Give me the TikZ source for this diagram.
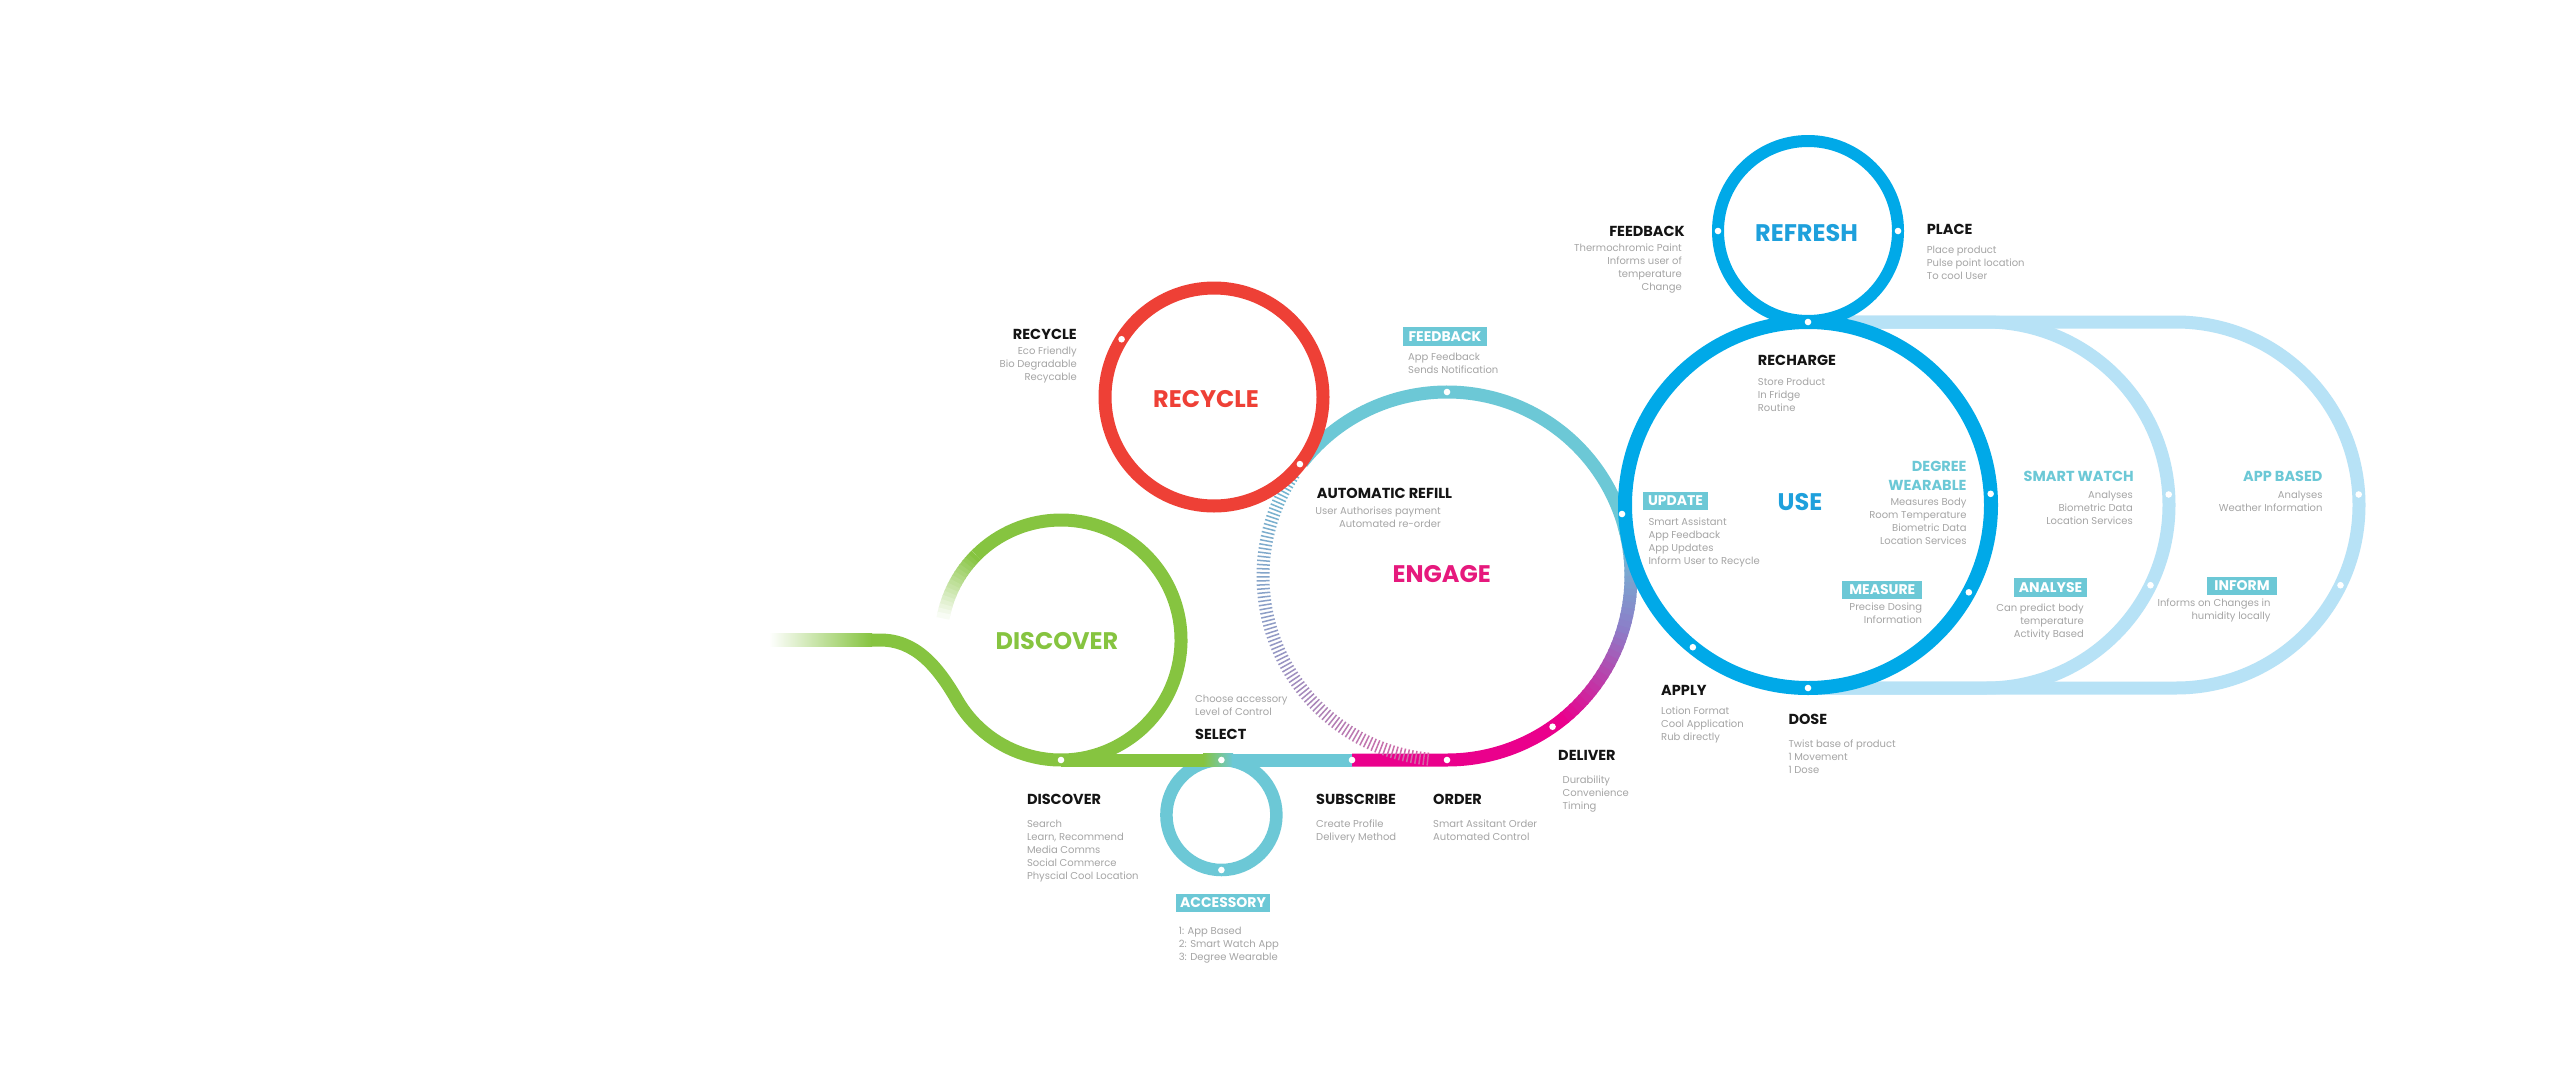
\documentclass[tikz,border=0pt]{standalone}
\usepackage{fontspec}
\setmainfont{Poppins}
\usetikzlibrary{calc}
\definecolor{cGreen}{RGB}{134,196,64}
\definecolor{cRed}{RGB}{238,64,54}
\definecolor{cCyan}{RGB}{108,200,214}
\definecolor{cMag}{RGB}{234,0,140}
\definecolor{cPink}{RGB}{230,25,125}
\definecolor{cViolet}{RGB}{140,125,200}
\definecolor{cBlue}{RGB}{0,169,232}
\definecolor{cBlueT}{RGB}{30,160,220}
\definecolor{cLight}{RGB}{183,226,246}
\definecolor{cGray}{RGB}{165,165,165}
\definecolor{cBlack}{RGB}{20,20,20}
\definecolor{tA}{RGB}{110,185,210}
\definecolor{tB}{RGB}{150,150,195}
\definecolor{tC}{RGB}{215,100,165}
\newcommand\glines[5]{%
  \foreach [count=\i] \t in {#5} {%
    \node[gtxt, anchor=base #2] (#1-\i) at (#3, {#4+3.6+13*(\i-1)}) {\t};}}
\begin{document}
\begin{tikzpicture}[x=1pt,y=-1pt,
  gtxt/.style={font=\fontsize{10}{13}\selectfont, text=cGray, inner sep=0},
  head/.style={font=\fontsize{14.5}{17}\selectfont\bfseries, text=cBlack, inner sep=0},
  chead/.style={font=\fontsize{14.5}{17}\selectfont\bfseries, text=cCyan, inner sep=0},
  title/.style={font=\fontsize{24}{28}\selectfont\bfseries, inner sep=0},
  lbl/.style={fill=cCyan, text=white, font=\fontsize{14}{16}\selectfont\bfseries, inner sep=0, minimum height=18.5},
  dot/.style={circle, fill=white, inner sep=0, minimum size=6.6},
  track/.style={line width=13}]
\fill[white] (0,0) rectangle (2560,1071);
\useasboundingbox (0,0) rectangle (2560,1071);
\coordinate (C) at (1061,640);
\coordinate (E) at (1447,576);
\coordinate (R) at (1214,397);
\coordinate (U) at (1808,505);
\coordinate (F) at (1808,231);
\coordinate (L1) at (1986,505);
\coordinate (L2) at (2176,505);
\coordinate (A) at (1221.4,815);
% light blue loops
\draw[cLight, track] (1808,322) -- (2176,322) arc[start angle=-90,end angle=90,radius=183] -- (1808,688);
\draw[cLight, track] (1808,322) -- (1986,322) arc[start angle=-90,end angle=90,radius=183] -- (1808,688);
% green discover
\shade[left color=white, right color=cGreen] (769,633.5) rectangle (872,646.5);
\draw[cGreen, track] (871,640) -- (880,640) .. controls (915,640) and (937.1,665.4) .. (957.08,700)
  arc[start angle=150,end angle=-135,radius=120];
\foreach \a in {-135,-137,...,-167} {
  \pgfmathsetmacro\p{(\a+169)/34*100}
  \pgfmathsetmacro\b{\a-2.6}
  \draw[color=cGreen!\p!white, track] ($(C)+(\a:120)$) arc[start angle=\a,end angle=\b,radius=120];}
% accessory circle
\draw[cCyan, line width=12.5] (A) circle[radius=55];
% bottom line
\draw[cGreen, track] (1061,760) -- (1204,760);
\shade[left color=cGreen, right color=cCyan] (1203,753.5) rectangle (1233,766.5);
\draw[cCyan, track] (1232,760) -- (1352,760);
% engage
\draw[cCyan, track] ($(E)+(218:184)$) arc[start angle=218,end angle=346,radius=184];
\foreach \a in {344,346,...,374} {
  \pgfmathsetmacro\p{(376-\a)/32*100}
  \pgfmathsetmacro\b{\a+2.6}
  \draw[color=cCyan!\p!cViolet, track] ($(E)+(\a:184)$) arc[start angle=\a,end angle=\b,radius=184];}
\foreach \a in {376,378,...,408} {
  \pgfmathsetmacro\p{(410-\a)/34*100}
  \pgfmathsetmacro\b{\a+2.6}
  \draw[color=cViolet!\p!cMag, track] ($(E)+(\a:184)$) arc[start angle=\a,end angle=\b,radius=184];}
\draw[cMag, track] (1352,760) -- (1447,760) arc[start angle=90,end angle=50,radius=184];
\foreach \a in {96,97.25,...,214} {
  \pgfmathsetmacro\p{\a>=155 ? (\a-155)/59*100 : (\a-96)/59*100}
  \ifdim\a pt<155pt
    \draw[line width=1.5, color=tB!\p!tC] ($(E)+(\a:177.5)$) -- ($(E)+(\a:190.5)$);
  \else
    \draw[line width=1.5, color=tA!\p!tB] ($(E)+(\a:177.5)$) -- ($(E)+(\a:190.5)$);
  \fi}
% recycle
\draw[cRed, track] (R) circle[radius=109];
% use / refresh
\draw[cBlue, line width=14] (U) circle[radius=183];
\draw[cBlue, line width=12] (F) circle[radius=90];
% dots
\node[dot] (d1) at ($(C)+(90:120)$) {};
\node[dot] (d2) at (1221.4,760) {};
\node[dot] (d3) at (1221.4,870) {};
\node[dot] (d4) at (1352,760) {};
\node[dot] (d5) at (1447,760) {};
\node[dot] (d6) at ($(E)+(55:184)$) {};
\node[dot] (d7) at ($(E)+(270:184)$) {};
\node[dot] (d8) at (1622,514) {};
\node[dot] (d9) at ($(R)+(212:109)$) {};
\node[dot] (d10) at ($(R)+(38:109)$) {};
\node[dot] (d11) at ($(U)+(270:183)$) {};
\node[dot] (d12) at ($(U)+(-3.5:183)$) {};
\node[dot] (d13) at ($(U)+(28.5:183)$) {};
\node[dot] (d14) at ($(U)+(90:183)$) {};
\node[dot] (d15) at ($(U)+(129:183)$) {};
\node[dot] (d16) at ($(F)+(180:90)$) {};
\node[dot] (d17) at ($(F)+(0:90)$) {};
\node[dot] (d18) at ($(L1)+(-3.3:183)$) {};
\node[dot] (d19) at ($(L1)+(26:183)$) {};
\node[dot] (d20) at ($(L2)+(-3.3:183)$) {};
\node[dot] (d21) at ($(L2)+(26:183)$) {};
% titles
\node[title, text=cGreen] (tDiscover) at (1057,641) {DISCOVER};
\node[title, text=cRed] (tRecycle) at (1206,399) {RECYCLE};
\node[title, text=cPink] (tEngage) at (1441.7,574) {ENGAGE};
\node[title, text=cBlueT] (tRefresh) at (1806.5,233.3) {REFRESH};
\node[title, text=cBlueT] (tUse) at (1800,502.5) {USE};
% headings
\node[head, anchor=east] (hRecycle) at (1077,334) {RECYCLE};
\node[head, anchor=east] (hFeedback) at (1685,231) {FEEDBACK};
\node[head, anchor=west] (hPlace) at (1926.7,229.3) {PLACE};
\node[head, anchor=west] (hRecharge) at (1757.7,360.7) {RECHARGE};
\node[head, anchor=east] (hRefill) at (1452.3,493.3) {AUTOMATIC REFILL};
\node[head, anchor=west] (hSelect) at (1195,734) {SELECT};
\node[head, anchor=west] (hDiscover) at (1026.8,799.3) {DISCOVER};
\node[head, anchor=west] (hSubscribe) at (1316,799.3) {SUBSCRIBE};
\node[head, anchor=west] (hOrder) at (1433,799.3) {ORDER};
\node[head, anchor=west] (hDeliver) at (1558,755.7) {DELIVER};
\node[head, anchor=west] (hApply) at (1661,690.7) {APPLY};
\node[head, anchor=west] (hDose) at (1788.3,719.3) {DOSE};
\node[chead, anchor=east] (hDegree) at (1966.7,466.7) {DEGREE};
\node[chead, anchor=east] (hWearable) at (1966.7,485) {WEARABLE};
\node[chead, anchor=east] (hWatch) at (2134,476) {SMART WATCH};
\node[chead, anchor=east] (hApp) at (2322.7,476) {APP BASED};
% boxed labels
\node[lbl, minimum width=84.5] (lFeedback) at (1445,336.5) {FEEDBACK};
\node[lbl, minimum width=64.4] (lUpdate) at (1675.5,501) {UPDATE};
\node[lbl, minimum width=80] (lMeasure) at (1882.3,590) {MEASURE};
\node[lbl, minimum width=73] (lAnalyse) at (2050.5,587.5) {ANALYSE};
\node[lbl, minimum width=70] (lInform) at (2242,586) {INFORM};
\node[lbl, minimum width=94.5] (lAccessory) at (1223,903) {ACCESSORY};
% gray text
\glines{gRecycle}{east}{1077}{351}{Eco Friendly,Bio Degradable,Recycable}
\glines{gFeedback}{west}{1408}{357}{App Feedback,Sends Notification}
\glines{gThermo}{east}{1682}{247.7}{Thermochromic Paint,Informs user of,temperature,Change}
\glines{gPlace}{west}{1926.7}{250}{Place product,Pulse point location,To cool User}
\glines{gRecharge}{west}{1757.7}{382}{Store Product,In Fridge,Routine}
\glines{gRefill}{east}{1441}{511.3}{User Authorises payment,Automated re-order}
\glines{gUpdate}{west}{1648.3}{522}{Smart Assistant,App Feedback,App Updates,Inform User to Recycle}
\glines{gDegree}{east}{1966.7}{502.3}{Measures Body,Room Temperature,Biometric Data,Location Services}
\glines{gMeasure}{east}{1922.3}{607.3}{Precise Dosing,Information}
\glines{gWatch}{east}{2133}{495.3}{Analyses,Biometric Data,Location Services}
\glines{gApp}{east}{2322.7}{495}{Analyses,Weather Information}
\glines{gAnalyse}{east}{2084}{608.3}{Can predict body,temperature,Activity Based}
\glines{gInform}{east}{2270.7}{603.3}{Informs on Changes in,humidity locally}
\glines{gApply}{west}{1661}{711.3}{Lotion Format,Cool Application,Rub directly}
\glines{gDose}{west}{1788.3}{744.3}{Twist base of product,1 Movement,1 Dose}
\glines{gDeliver}{west}{1562.5}{780.3}{Durability,Convenience,Timing}
\glines{gSelect}{west}{1195}{699}{Choose accessory,Level of Control}
\glines{gDiscover}{west}{1026.8}{824.3}{Search,{Learn, Recommend},Media Comms,Social Commerce,Physcial Cool Location}
\glines{gSubscribe}{west}{1316}{824.3}{Create Profile,Delivery Method}
\glines{gOrder}{west}{1433}{824.3}{Smart Assitant Order,Automated Control}
\glines{gAccessory}{west}{1178.6}{931}{1: App Based,2: Smart Watch App,3: Degree Wearable}
\end{tikzpicture}
\end{document}
